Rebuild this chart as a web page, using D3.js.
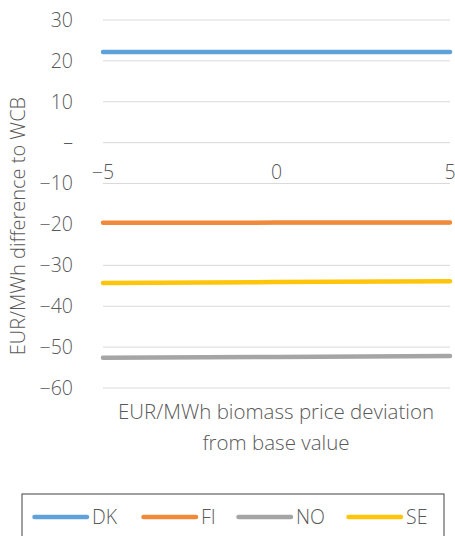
<!DOCTYPE html>
<html><head><meta charset="utf-8">
<script src="https://cdn.jsdelivr.net/npm/d3@7"></script>
<style>
body{margin:0;background:#fff;}
text{font-family:"Open Sans","Noto Sans",sans-serif;font-weight:300;fill:#595959;}
</style></head>
<body><svg id="c" width="455" height="536"></svg>
<script>
const xValues = [-5, 0, 5];
const xTickLabels = ["\u22125", "0", "5"];
const series = ["DK", "FI", "NO", "SE"];
const dkValues = [22.2, 22.2, 22.2];
const fiValues = [-19.6, -19.55, -19.5];
const noValues = [-52.6, -52.4, -52.2];
const seValues = [-34.3, -34.1, -33.9];
const yTicks = [30, 20, 10, 0, -10, -20, -30, -40, -50, -60];
const colors = {DK:"#5FA2D9", FI:"#F08A3A", NO:"#A5A5A5", SE:"#FFC50A"};
const dataBy = {DK:dkValues, FI:fiValues, NO:noValues, SE:seValues};

const svg = d3.select("#c");
const x = d3.scaleLinear().domain([-5,5]).range([103,450]);
const y = d3.scaleLinear().domain([-60,30]).range([388,20]);
const fs = 19.5;

// gridlines
svg.append("g").selectAll("line").data(yTicks).join("line")
  .attr("x1",103).attr("x2",450)
  .attr("y1",d=>y(d)).attr("y2",d=>y(d))
  .attr("stroke","#d9d9d9").attr("stroke-width",1);

// y labels
const fmt = d => d===0 ? "\u2013" : (d<0 ? "\u2212"+Math.abs(d) : String(d));
svg.append("g").selectAll("text").data(yTicks).join("text")
  .attr("x",73).attr("y",d=>y(d)).attr("dy","0.35em")
  .attr("text-anchor","end").attr("font-size",fs).text(fmt);

// x labels
svg.append("g").selectAll("text").data(xValues).join("text")
  .attr("x",d=>x(d)).attr("y",172).attr("dy","0.35em")
  .attr("text-anchor","middle").attr("font-size",fs)
  .text((d,i)=>xTickLabels[i]);

// lines
const line = d3.line().x((d,i)=>x(xValues[i])).y(d=>y(d));
series.forEach(s=>{
  svg.append("path").datum(dataBy[s]).attr("d",line)
    .attr("fill","none").attr("stroke",colors[s]).attr("stroke-width",4.5)
    .attr("stroke-linecap","round");
});

// axis titles
svg.append("text").attr("transform","translate(18,226) rotate(-90)")
  .attr("text-anchor","middle").attr("dy","0.35em").attr("font-size",20)
  .text("EUR/MWh difference to WCB");
svg.append("text").attr("x",276).attr("y",412).attr("dy","0.35em")
  .attr("text-anchor","middle").attr("font-size",20.5)
  .text("EUR/MWh biomass price deviation");
svg.append("text").attr("x",276).attr("y",443).attr("dy","0.35em")
  .attr("text-anchor","middle").attr("font-size",20.5)
  .text("from base value");

// legend
svg.append("rect").attr("x",22).attr("y",494).attr("width",422).attr("height",50)
  .attr("fill","none").attr("stroke","#404040").attr("stroke-width",1);
const legX = [33, 142, 237, 347];
series.forEach((s,i)=>{
  svg.append("line").attr("x1",legX[i]+1.5).attr("x2",legX[i]+54)
    .attr("y1",517).attr("y2",517).attr("stroke",colors[s]).attr("stroke-width",4.5)
    .attr("stroke-linecap","round");
  svg.append("text").attr("x",legX[i]+59).attr("y",517).attr("dy","0.35em")
    .attr("font-size",fs).text(s);
});
</script></body></html>
